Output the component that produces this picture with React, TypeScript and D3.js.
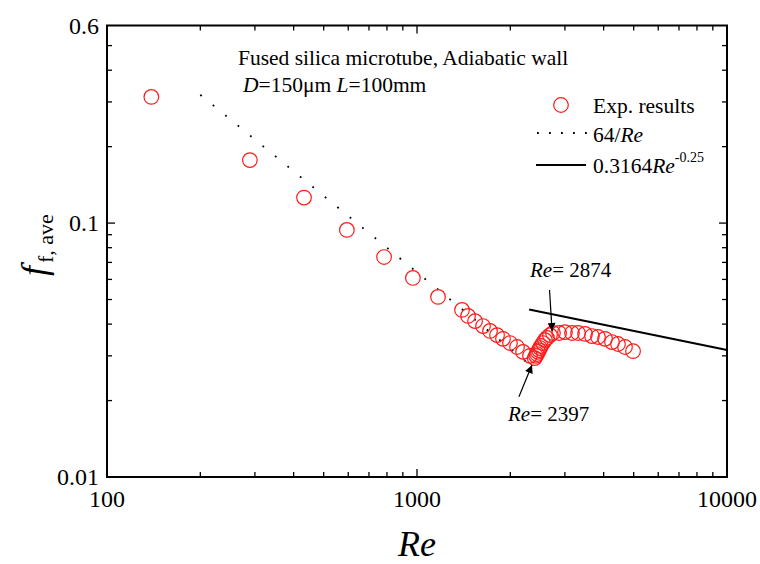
import React from 'react';
import * as d3 from 'd3';

const expRe = [139, 289, 432, 594, 783, 970, 1169, 1397, 1461, 1539, 1633, 1720, 1812, 1894, 1995, 2102, 2198, 2315, 2397,
  2420, 2439, 2456, 2475, 2494, 2512, 2549, 2587, 2626, 2685, 2745,
  2874, 3002, 3162, 3307, 3484, 3668, 3836, 4042, 4256, 4450, 4688, 4977];
const expF = [0.314, 0.177, 0.126, 0.094, 0.0735, 0.0608, 0.0512, 0.0455, 0.0431, 0.0411, 0.0393, 0.0376, 0.0362, 0.035, 0.0337, 0.0325, 0.0311, 0.03, 0.0294,
  0.03, 0.0305, 0.0311, 0.0316, 0.0322, 0.0328, 0.0337, 0.0346, 0.0353, 0.0362, 0.0369,
  0.0369, 0.0372, 0.0369, 0.0369, 0.0366, 0.0359, 0.0356, 0.035, 0.034, 0.0334, 0.0325, 0.0313];

const laminarRange = [200, 2300];
const blasiusRange = [2300, 10000];

const xTicks = [100, 1000, 10000];
const yTicks = [0.01, 0.1];
const xMinor = [200, 300, 400, 500, 600, 700, 800, 900, 2000, 3000, 4000, 5000, 6000, 7000, 8000, 9000];
const yMinor = [0.02, 0.03, 0.04, 0.05, 0.06, 0.07, 0.08, 0.09, 0.2, 0.3, 0.4, 0.5];

// arrows: [tailRe, tailF, tipRe, tipF], labels: [Re, f, text]
const arrows = [[2676, 0.0545, 2727, 0.0376], [2132, 0.0207, 2349, 0.0276]];
const notes: [number, number, string][] = [[2315, 0.0613, '2874'], [1966, 0.0166, '2397']];

const W = 760, H = 564;
const m = { left: 107, right: 727, top: 25.5, bottom: 477 };
const font = '"Times New Roman", "Liberation Serif", serif';

export default function App() {
  const x = d3.scaleLog().domain([100, 10000]).range([m.left, m.right]);
  const y = d3.scaleLog().domain([0.01, 0.6]).range([m.bottom, m.top]);

  const lam = d3.line<number>().x(d => x(d)).y(d => y(64 / d));
  const bla = d3.line<number>().x(d => x(d)).y(d => y(0.3164 * Math.pow(d, -0.25)));

  const tick = (len: number) => (
    <g stroke="#000" strokeWidth={1.3}>
      {(len === 8 ? xTicks : xMinor).map(t => (
        <g key={'x' + t}>
          <line x1={x(t)} x2={x(t)} y1={m.bottom} y2={m.bottom - len} />
          <line x1={x(t)} x2={x(t)} y1={m.top} y2={m.top + len} />
        </g>
      ))}
      {(len === 8 ? yTicks : yMinor).map(t => (
        <g key={'y' + t}>
          <line x1={m.left} x2={m.left + len} y1={y(t)} y2={y(t)} />
          <line x1={m.right} x2={m.right - len} y1={y(t)} y2={y(t)} />
        </g>
      ))}
    </g>
  );

  return (
    <svg width={W} height={H} style={{ position: 'absolute', left: 0, top: 0, background: '#fff' }} fontFamily={font}>
      <defs>
        <marker id="ah" viewBox="0 0 10 10" refX="10" refY="5" markerWidth="11" markerHeight="8" markerUnits="userSpaceOnUse" orient="auto">
          <path d="M0,0 L10,5 L0,10 z" fill="#000" />
        </marker>
      </defs>

      {/* reference correlations */}
      <path d={lam(d3.range(Math.log10(laminarRange[0]), Math.log10(laminarRange[1]) + 0.001, 0.01).map(v => Math.pow(10, v))) || ''}
        fill="none" stroke="#000" strokeWidth={1.8} strokeDasharray="1.8 14.3" />
      <path d={bla(blasiusRange) || ''} fill="none" stroke="#000" strokeWidth={2.2} />

      {expRe.map((r, i) => (
        <circle key={i} cx={x(r)} cy={y(expF[i])} r={7.3} fill="none" stroke="#ff1a1a" strokeWidth={1.2} />
      ))}

      {arrows.map((a, i) => (
        <line key={i} x1={x(a[0])} y1={y(a[1])} x2={x(a[2])} y2={y(a[3])} stroke="#000" strokeWidth={1.2} markerEnd="url(#ah)" />
      ))}
      {notes.map(n => (
        <text key={n[2]} x={x(n[0])} y={y(n[1])} fontSize={21}>
          <tspan fontStyle="italic">Re</tspan>= {n[2]}
        </text>
      ))}

      {/* frame and ticks */}
      <rect x={m.left} y={m.top} width={m.right - m.left} height={m.bottom - m.top} fill="none" stroke="#000" strokeWidth={2} />
      {tick(8)}
      {tick(5)}

      {xTicks.map(t => (
        <text key={t} x={x(t)} y={m.bottom + 30} fontSize={24} textAnchor="middle">{t}</text>
      ))}
      {[0.01, 0.1, 0.6].map(t => (
        <text key={t} x={m.left - 8} y={y(t) + 8} fontSize={24} textAnchor="end">{t}</text>
      ))}

      <text x={(m.left + m.right) / 2} y={556} fontSize={36} fontStyle="italic" textAnchor="middle">Re</text>
      <text transform="translate(46,276) rotate(-90)">
        <tspan fontSize={36} fontStyle="italic">f</tspan>
        <tspan fontSize={22} dy={7} dx={3}>f, ave</tspan>
      </text>

      {/* header */}
      <text x={238} y={65} fontSize={21.5}>Fused silica microtube, Adiabatic wall</text>
      <text x={243} y={92} fontSize={21.5}>
        <tspan fontStyle="italic">D</tspan>=150μm <tspan fontStyle="italic">L</tspan>=100mm
      </text>

      {/* legend */}
      <circle cx={561} cy={105} r={7.3} fill="none" stroke="#ff1a1a" strokeWidth={1.2} />
      <text x={593} y={113} fontSize={21.5}>Exp. results</text>
      <line x1={537} x2={587} y1={133} y2={133} stroke="#000" strokeWidth={1.8} strokeDasharray="1.8 10.2" />
      <text x={593} y={142} fontSize={21.5}>64/<tspan fontStyle="italic">Re</tspan></text>
      <line x1={536} x2={586} y1={165} y2={165} stroke="#000" strokeWidth={2.2} />
      <text x={593} y={173} fontSize={21.5}>0.3164<tspan fontStyle="italic">Re</tspan>
        <tspan fontSize={14} dy={-11}>-0.25</tspan>
      </text>
    </svg>
  );
}
